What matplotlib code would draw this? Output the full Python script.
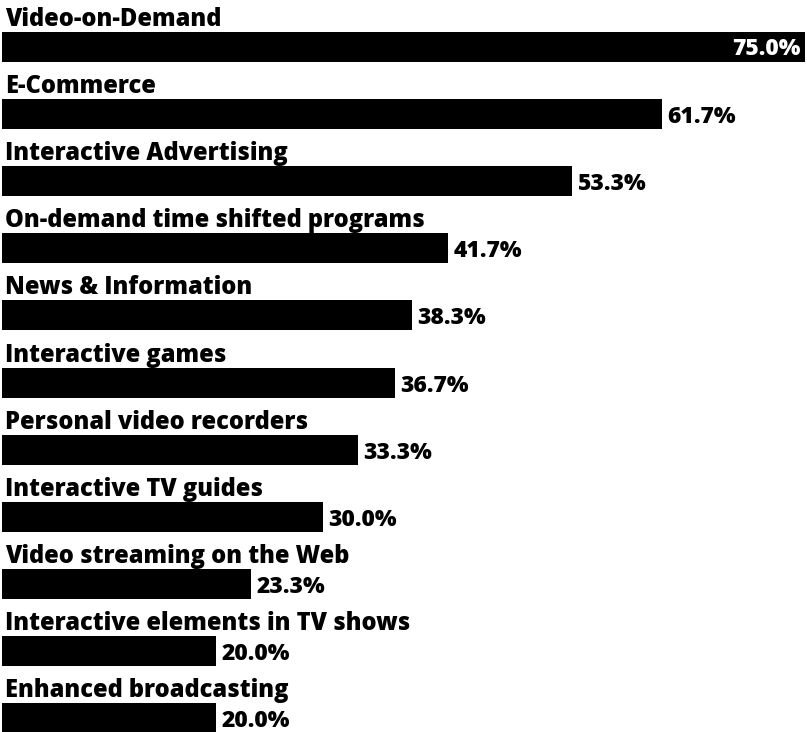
import matplotlib
matplotlib.use("Agg")
import matplotlib.pyplot as plt
import numpy as np

# services and share of respondents (%)
services = [
    "Video-on-Demand",
    "E-Commerce",
    "Interactive Advertising",
    "On-demand time shifted programs",
    "News & Information",
    "Interactive games",
    "Personal video recorders",
    "Interactive TV guides",
    "Video streaming on the Web",
    "Interactive elements in TV shows",
    "Enhanced broadcasting",
]
shares = [75.0, 61.7, 53.3, 41.7, 38.3, 36.7, 33.3, 30.0, 23.3, 20.0, 20.0]

W, H = 807, 732
fig = plt.figure(figsize=(W / 100, H / 100), dpi=100)
ax = fig.add_axes([0, 0, 1, 1])

px_per_pct = 10.7
x0 = 2
ax.set_xlim(-x0 / px_per_pct, (W - x0) / px_per_pct)
ax.set_ylim(H, 0)
ax.axis("off")

pitch = 67.1
bar_h = 30
first_top = 32
name_font = dict(family="Open Sans", weight=800, fontsize=17)
val_font = dict(family="Open Sans", weight=800, fontsize=16.5)

for i, (name, val) in enumerate(zip(services, shares)):
    top = first_top + pitch * i
    ax.barh(top + bar_h / 2, val, height=bar_h, left=0, color="black")
    ax.text(0.3, top - 6, name, ha="left", va="baseline", color="black", **name_font)
    if i == 0:
        ax.text(val - 0.4, top + bar_h / 2 + 2, f"{val:.1f}%", ha="right",
                va="center", color="white", **val_font)
    else:
        ax.text(val + 0.5, top + bar_h / 2 + 3, f"{val:.1f}%", ha="left",
                va="center", color="black", **val_font)

fig.savefig("out.png", dpi=100)
